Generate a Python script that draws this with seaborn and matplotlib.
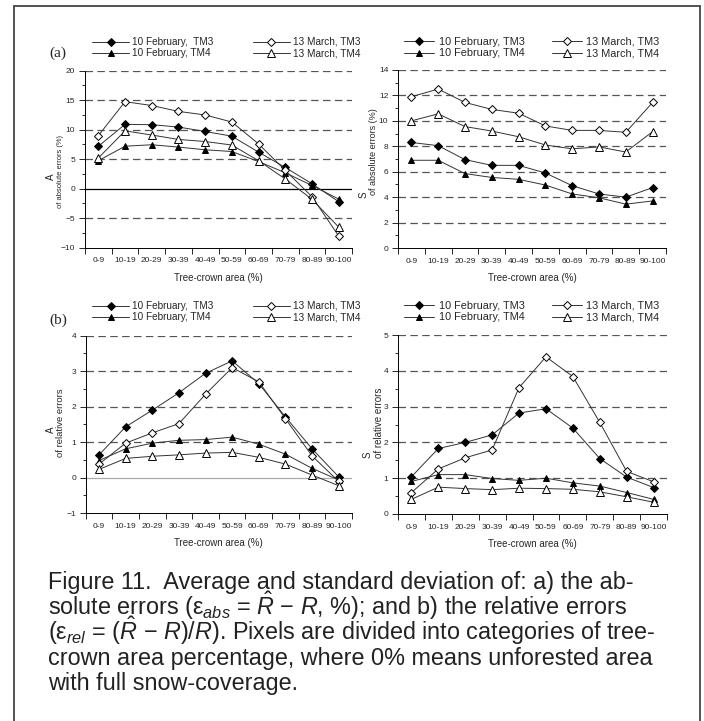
import numpy as np
import pandas as pd
import matplotlib
matplotlib.use("Agg")
import matplotlib.pyplot as plt
import seaborn as sns
from matplotlib.patches import Rectangle
from matplotlib.ticker import MultipleLocator, FixedLocator

# ---------------- data ----------------
categories = ["0-9", "10-19", "20-29", "30-39", "40-49",
              "50-59", "60-69", "70-79", "80-89", "90-100"]
series_names = ["10 February,  TM3", "10 February, TM4", "13 March, TM3", "13 March, TM4"]
series_names_r = ["10 February, TM3", "10 February, TM4", "13 March, TM3", "13 March, TM4"]

# (a) mean of absolute errors (%)
abs_mean_feb_tm3 = [7.2, 10.9, 10.85, 10.45, 9.7, 8.9, 6.2, 3.6, 0.85, -2.2]
abs_mean_feb_tm4 = [4.75, 7.2, 7.45, 7.05, 6.6, 6.3, 4.6, 2.7, 0.55, -1.75]
abs_mean_mar_tm3 = [9.0, 14.75, 14.1, 13.1, 12.5, 11.3, 7.6, 3.1, -1.35, -8.0]
abs_mean_mar_tm4 = [5.2, 9.8, 9.1, 8.35, 8.0, 7.4, 4.75, 1.65, -1.8, -6.5]

# (a) std of absolute errors (%)
abs_std_feb_tm3 = [8.3, 8.05, 6.95, 6.5, 6.5, 5.9, 4.9, 4.25, 4.0, 4.75]
abs_std_feb_tm4 = [6.9, 6.9, 5.85, 5.55, 5.4, 4.95, 4.25, 3.95, 3.45, 3.7]
abs_std_mar_tm3 = [11.9, 12.5, 11.45, 10.9, 10.6, 9.6, 9.25, 9.25, 9.1, 11.45]
abs_std_mar_tm4 = [10.0, 10.55, 9.55, 9.2, 8.75, 8.1, 7.8, 7.95, 7.55, 9.15]

# (b) mean of relative errors
rel_mean_feb_tm3 = [0.64, 1.43, 1.9, 2.39, 2.94, 3.29, 2.65, 1.71, 0.81, 0.02]
rel_mean_feb_tm4 = [0.48, 0.81, 0.97, 1.05, 1.07, 1.14, 0.94, 0.66, 0.26, -0.07]
rel_mean_mar_tm3 = [0.38, 0.97, 1.26, 1.52, 2.35, 3.1, 2.7, 1.66, 0.61, -0.11]
rel_mean_mar_tm4 = [0.23, 0.54, 0.6, 0.64, 0.69, 0.71, 0.57, 0.38, 0.07, -0.23]

# (b) std of relative errors
rel_std_feb_tm3 = [1.04, 1.83, 2.0, 2.21, 2.82, 2.94, 2.4, 1.55, 1.03, 0.74]
rel_std_feb_tm4 = [0.91, 1.1, 1.1, 0.99, 0.94, 1.0, 0.87, 0.78, 0.6, 0.41]
rel_std_mar_tm3 = [0.6, 1.26, 1.57, 1.79, 3.53, 4.39, 3.84, 2.56, 1.19, 0.9]
rel_std_mar_tm4 = [0.41, 0.75, 0.71, 0.68, 0.72, 0.71, 0.69, 0.62, 0.48, 0.33]

# ---------------- style ----------------
sns.set_style("ticks")
plt.rcParams["font.family"] = ["Liberation Sans", "DejaVu Sans"]
plt.rcParams["mathtext.fontset"] = "custom"
plt.rcParams["mathtext.rm"] = "Liberation Sans"
plt.rcParams["mathtext.it"] = "Liberation Sans:italic"

W, H = 704, 721
fig = plt.figure(figsize=(W / 100, H / 100), dpi=100)


def fx(px):
    return px / W


def fy(py):
    return 1 - py / H


def axes_px(x0, y0, x1, y1):
    return fig.add_axes([fx(x0), fy(y1), fx(x1) - fx(x0), (y1 - y0) / H])


STYLES = [
    dict(marker="D", ms=4.3, mfc="black"),
    dict(marker="^", ms=5.0, mfc="black"),
    dict(marker="D", ms=4.3, mfc="white"),
    dict(marker="^", ms=5.2, mfc="white"),
]


def draw_panel(ax, series, labels, ylim, major, minor, grid_vals, zero_color=None):
    for g in grid_vals:
        ax.axhline(g, color="#555555", lw=0.9, ls=(0, (6, 3.5)), zorder=0)
    if zero_color is not None:
        ax.axhline(0, color=zero_color, lw=0.9, zorder=0)
    for vals, lab, st in zip(series, labels, STYLES):
        df = pd.DataFrame({"cat": categories, "val": vals})
        sns.lineplot(data=df, x="cat", y="val", ax=ax, sort=False,
                     color="#333333", lw=0.7, marker=st["marker"],
                     markersize=st["ms"], markerfacecolor=st["mfc"],
                     markeredgecolor="black", markeredgewidth=0.7,
                     label=lab, zorder=3)
    if ax.get_legend() is not None:
        ax.get_legend().remove()
    ax.set_xlim(-0.5, 9.5)
    ax.set_ylim(*ylim)
    ax.yaxis.set_major_locator(MultipleLocator(major))
    ax.yaxis.set_minor_locator(MultipleLocator(minor))
    ax.xaxis.set_minor_locator(FixedLocator(np.arange(-0.5, 10, 1)))
    ax.tick_params(axis="x", which="major", length=0, labelsize=6, pad=7)
    ax.tick_params(axis="x", which="minor", length=4, width=0.7)
    ax.tick_params(axis="y", which="major", length=4, width=0.7, labelsize=6, pad=3)
    ax.tick_params(axis="y", which="minor", length=2.5, width=0.7)
    for s in ("top", "right"):
        ax.spines[s].set_visible(False)
    for s in ("left", "bottom"):
        ax.spines[s].set_linewidth(0.7)
        ax.spines[s].set_color("black")
    ax.set_xlabel("Tree-crown area (%)", fontsize=7, labelpad=6)
    ax.set_ylabel("")


def add_legend(ax, x0, y0, fs, hl, hp, cs):
    h, l = ax.get_legend_handles_labels()
    fig.legend(h, l, loc="upper left", bbox_to_anchor=(fx(x0), fy(y0)),
               ncol=2, frameon=False, fontsize=fs, handlelength=hl,
               handletextpad=hp, columnspacing=cs, labelspacing=0.12,
               borderpad=0, borderaxespad=0)


# (a) left
ax1 = axes_px(85, 70.7, 352, 247.7)
draw_panel(ax1, [abs_mean_feb_tm3, abs_mean_feb_tm4, abs_mean_mar_tm3, abs_mean_mar_tm4],
           series_names, (-10, 20), 5, 2.5, [20, 15, 10, 5, -5], zero_color="black")
add_legend(ax1, 92, 37, 7.2, 3.7, 0.35, 3.9)
fig.text(fx(51), fy(177), "A", rotation=90, ha="center", va="center", fontsize=7)
fig.text(fx(61), fy(172), "of absolute errors (%)", rotation=90, ha="center", va="center", fontsize=5.4)

# (a) right
ax2 = axes_px(398, 70, 666, 248)
draw_panel(ax2, [abs_std_feb_tm3, abs_std_feb_tm4, abs_std_mar_tm3, abs_std_mar_tm4],
           series_names_r, (0, 14), 2, 1, [14, 12, 10, 8, 6, 4, 2])
add_legend(ax2, 404, 37, 7.8, 2.8, 0.4, 2.5)
fig.text(fx(364), fy(195), "S", rotation=90, ha="center", va="center", fontsize=7)
fig.text(fx(374), fy(152), "of absolute errors (%)", rotation=90, ha="center", va="center", fontsize=6.5)

# (b) left
ax3 = axes_px(85.7, 335.7, 352, 513)
draw_panel(ax3, [rel_mean_feb_tm3, rel_mean_feb_tm4, rel_mean_mar_tm3, rel_mean_mar_tm4],
           series_names, (-1, 4), 1, 0.5, [4, 3, 2, 1], zero_color="#aaaaaa")
add_legend(ax3, 92, 301, 7.2, 3.7, 0.35, 3.9)
fig.text(fx(51), fy(430), "A", rotation=90, ha="center", va="center", fontsize=7)
fig.text(fx(60.5), fy(423), "of relative errors", rotation=90, ha="center", va="center", fontsize=6.8)

# (b) right
ax4 = axes_px(398, 335, 667, 514)
draw_panel(ax4, [rel_std_feb_tm3, rel_std_feb_tm4, rel_std_mar_tm3, rel_std_mar_tm4],
           series_names_r, (0, 5), 1, 0.5, [5, 4, 3, 2, 1])
add_legend(ax4, 404, 301, 7.8, 2.8, 0.4, 2.5)
fig.text(fx(368), fy(455), "S", rotation=90, ha="center", va="center", fontsize=7)
fig.text(fx(379), fy(423), "of relative errors", rotation=90, ha="center", va="center", fontsize=7)

# panel letters
fig.text(fx(58), fy(53), "(a)", ha="center", va="center", fontsize=11,
         family=["Liberation Serif", "DejaVu Serif"])
fig.text(fx(58), fy(320), "(b)", ha="center", va="center", fontsize=11,
         family=["Liberation Serif", "DejaVu Serif"])

# caption
caption_lines = [
    "Figure 11.  Average and standard deviation of: a) the ab-",
    r"solute errors (ε$_{abs}$ = $\hat{R}$ − $R$, $\%$); and b) the relative errors",
    r"(ε$_{rel}$ = ($\hat{R}$ − $R$)/$R$). Pixels are divided into categories of tree-",
    "crown area percentage, where 0% means unforested area",
    "with full snow-coverage.",
]
baselines = [589, 615, 640, 665, 690]
for line, b in zip(caption_lines, baselines):
    fig.text(fx(48), fy(b), line, ha="left", va="baseline", fontsize=16.8,
             color="#222222")

# outer frame (bottom edge lies below the image, as in the reference)
fig.patches.append(Rectangle((fx(14), fy(740)), fx(700) - fx(14), (740 - 6) / H,
                             transform=fig.transFigure, fill=False,
                             edgecolor="#444444", lw=1.3))

fig.savefig("out.png", dpi=100)
